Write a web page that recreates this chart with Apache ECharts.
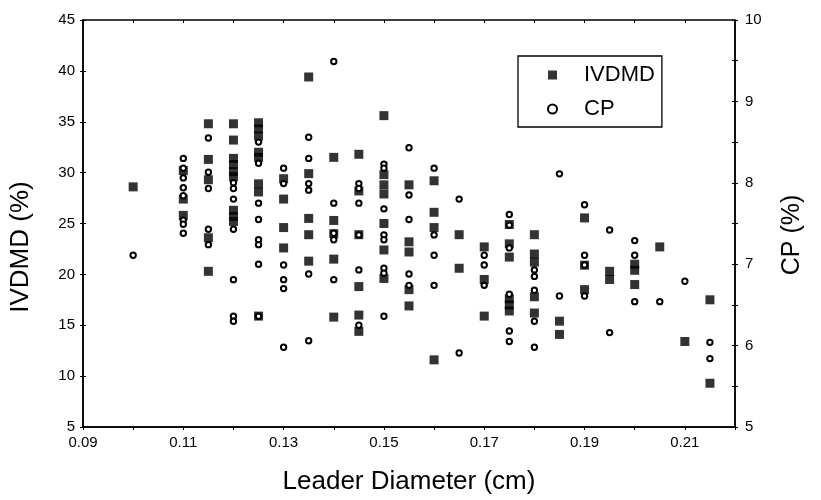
<!DOCTYPE html>
<html><head><meta charset="utf-8">
<script src="https://cdn.jsdelivr.net/npm/echarts@6/dist/echarts.min.js"></script>
<style>html,body{margin:0;padding:0;background:#fff}#c{width:821px;height:500px}</style>
</head><body><div id="c"></div>
<script>
// Leader diameters (cm) at which samples were measured
const diameters = [0.10, 0.11, 0.115, 0.12, 0.125, 0.13, 0.135, 0.14, 0.145, 0.15, 0.155, 0.16,
                   0.165, 0.17, 0.175, 0.18, 0.185, 0.19, 0.195, 0.20, 0.205, 0.21, 0.215];
// IVDMD (%) values per diameter (left axis)
const ivdmd = [
  [28.6],
  [30.2, 27.4, 25.8],
  [34.8, 31.3, 29.3, 23.6, 20.3],
  [34.8, 33.2, 31.4, 30.8, 30.1, 29.6, 26.3, 25.7, 25.2],
  [34.9, 34.3, 33.6, 32.0, 31.5, 28.9, 28.1, 15.9],
  [29.4, 27.4, 24.6, 22.6],
  [39.4, 29.9, 25.5, 23.9, 21.3],
  [31.5, 25.3, 24.0, 21.5, 15.8],
  [31.8, 28.2, 23.9, 18.8, 16.0, 14.4],
  [35.6, 29.8, 28.8, 27.9, 25.0, 22.4, 19.6],
  [28.8, 23.2, 22.2, 18.5, 16.9],
  [29.2, 26.1, 24.6, 11.6],
  [23.9, 20.6],
  [22.7, 19.5, 15.9],
  [24.9, 23.0, 21.7, 17.6, 17.0, 16.4],
  [23.9, 22.0, 21.2, 17.8, 16.2],
  [15.4, 14.1],
  [25.55, 20.9, 18.5],
  [20.3, 19.5],
  [21.0, 20.4, 19.0],
  [22.7],
  [13.4],
  [17.5, 9.3]
];
// CP (%) values per diameter (right axis)
const cp = [
  [7.11],
  [8.30, 8.18, 8.06, 7.94, 7.84, 7.54, 7.49, 7.38],
  [8.55, 8.13, 7.93, 7.43, 7.24],
  [8.00, 7.93, 7.80, 7.43, 6.81, 6.36, 6.30],
  [8.50, 8.24, 7.75, 7.55, 7.30, 7.24, 7.00, 6.36],
  [8.18, 7.99, 6.99, 6.81, 6.70, 5.98],
  [8.56, 8.30, 7.99, 7.91, 6.88, 6.06],
  [9.49, 7.75, 7.38, 7.30, 6.81],
  [7.99, 7.93, 7.75, 7.36, 6.93, 6.25],
  [8.23, 8.18, 7.68, 7.36, 7.30, 6.95, 6.89, 6.36],
  [8.43, 7.85, 7.55, 6.88, 6.74],
  [8.18, 7.36, 7.11, 6.74],
  [7.80, 5.91],
  [7.11, 6.99, 6.74],
  [7.61, 7.48, 7.20, 6.63, 6.18, 6.05],
  [6.93, 6.85, 6.68, 6.30, 5.98],
  [8.11, 6.61],
  [7.73, 7.11, 6.99, 6.61],
  [7.42, 6.16],
  [7.29, 7.11, 6.54],
  [6.54],
  [6.79],
  [6.04, 5.84]
];
const xLabelTicks = [0.09, 0.11, 0.13, 0.15, 0.17, 0.19, 0.21];
const leftTicks = [5, 10, 15, 20, 25, 30, 35, 40, 45];
const rightTicks = [5, 6, 7, 8, 9, 10];

function pairs(groups) {
  const out = [];
  groups.forEach((vals, i) => vals.forEach(v => out.push([diameters[i], v])));
  return out;
}
const FONT = "'Liberation Sans', Arial, sans-serif";
const chart = echarts.init(document.getElementById('c'), null, {renderer: 'canvas'});
const axisLine = {show: true, lineStyle: {color: '#000', width: 1.5}};
const tickOut = {show: true, length: 3, lineStyle: {color: '#000', width: 1}};
const tickIn = {show: true, inside: true, length: 3, lineStyle: {color: '#000', width: 1}};
const X_SCALE = {type: 'value', min: 0.09, max: 0.22, interval: 0.01};
const L_SCALE = {type: 'value', min: 5, max: 45, interval: 5, position: 'left'};
const R_SCALE = {type: 'value', min: 5, max: 10, interval: 0.5, position: 'right'};
const bare = {axisLine: {show: false}, axisLabel: {show: false}, splitLine: {show: false}, axisTick: tickIn};
chart.setOption({
  animation: false,
  backgroundColor: '#fff',
  grid: {left: 82, right: 86, top: 20, bottom: 69, show: true, borderColor: '#000', borderWidth: 1.5, backgroundColor: 'transparent'},
  legend: {
    data: ['IVDMD', 'CP'], orient: 'vertical', left: 518, top: 56,
    padding: [8, 7, 7, 29], borderColor: '#000', borderWidth: 1.3, itemGap: 12,
    itemWidth: 9, itemHeight: 9,
    textStyle: {fontFamily: FONT, fontSize: 22, color: '#000', padding: [0, 0, 0, 22]}
  },
  xAxis: [Object.assign({}, X_SCALE, {
    name: 'Leader Diameter (cm)', nameLocation: 'middle', nameGap: 42,
    nameTextStyle: {fontFamily: FONT, fontSize: 26, color: '#000'},
    axisLine, splitLine: {show: false}, axisTick: tickOut,
    axisLabel: {
      fontFamily: FONT, fontSize: 15, color: '#000', margin: 8,
      formatter: v => xLabelTicks.some(t => Math.abs(t - v) < 1e-6) ? v.toFixed(2) : ''
    }
  }), Object.assign({}, X_SCALE, bare)],
  yAxis: [Object.assign({}, L_SCALE, {
    name: 'IVDMD (%)', nameLocation: 'middle', nameGap: 49, nameRotate: 90,
    nameTextStyle: {fontFamily: FONT, fontSize: 26, color: '#000', padding: [0, 47, 0, 0]},
    axisLine, splitLine: {show: false}, axisTick: tickOut,
    axisLabel: {fontFamily: FONT, fontSize: 15, color: '#000', margin: 8,
      formatter: v => leftTicks.includes(Math.round(v)) ? String(Math.round(v)) : ''}
  }), Object.assign({}, R_SCALE, {
    name: 'CP (%)', nameLocation: 'middle', nameGap: 45, nameRotate: 90,
    nameTextStyle: {fontFamily: FONT, fontSize: 25, color: '#000', padding: [0, 23, 0, 0]},
    axisLine, splitLine: {show: false}, axisTick: tickOut,
    axisLabel: {fontFamily: FONT, fontSize: 15, color: '#000', margin: 10,
      formatter: v => (Math.abs(v - Math.round(v)) < 1e-6 && rightTicks.includes(Math.round(v))) ? String(Math.round(v)) : ''}
  }), Object.assign({}, L_SCALE, bare), Object.assign({}, R_SCALE, bare)],
  series: [{
    name: 'IVDMD', type: 'scatter', xAxisIndex: 0, yAxisIndex: 0, symbol: 'rect', symbolSize: 9,
    itemStyle: {color: '#000'}, data: pairs(ivdmd)
  }, {
    name: 'CP', type: 'scatter', xAxisIndex: 0, yAxisIndex: 1, symbol: 'circle', symbolSize: 5.4,
    itemStyle: {color: '#fff', borderColor: '#000', borderWidth: 2, opacity: 1}, data: pairs(cp)
  }]
});
</script></body></html>
